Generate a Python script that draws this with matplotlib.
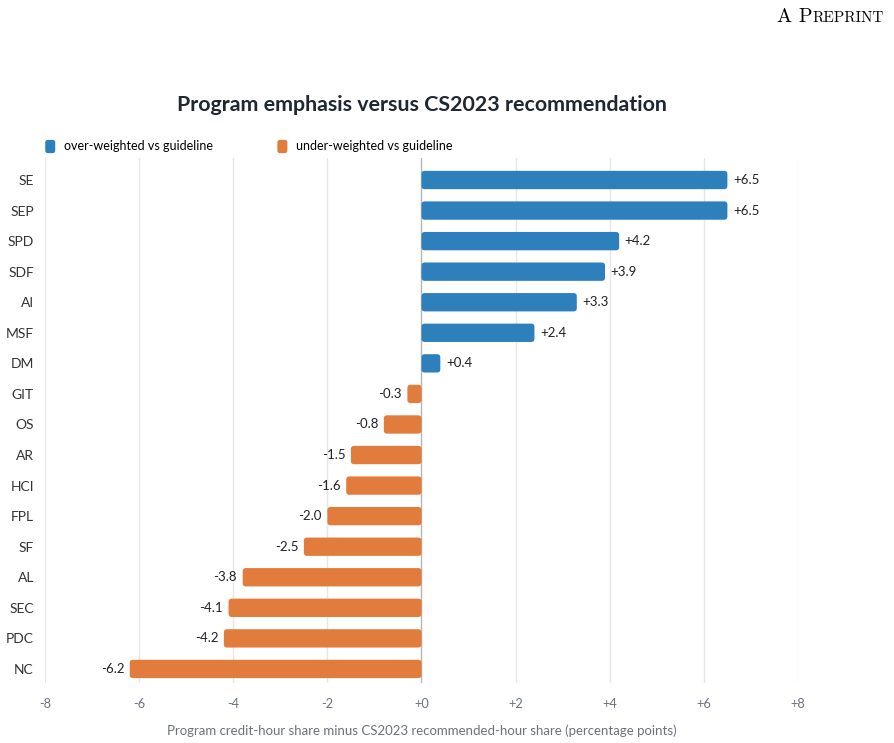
import matplotlib
matplotlib.use("Agg")
import matplotlib.pyplot as plt
from matplotlib.patches import FancyBboxPatch, Patch
from matplotlib.legend_handler import HandlerPatch

plt.rcParams['font.family'] = ['Lato', 'DejaVu Sans']

areas = ["SE", "SEP", "SPD", "SDF", "AI", "MSF", "DM", "GIT", "OS", "AR",
         "HCI", "FPL", "SF", "AL", "SEC", "PDC", "NC"]
deltas = [6.5, 6.5, 4.2, 3.9, 3.3, 2.4, 0.4, -0.3, -0.8, -1.5,
          -1.6, -2.0, -2.5, -3.8, -4.1, -4.2, -6.2]
xticks = [-8, -6, -4, -2, 0, 2, 4, 6, 8]
legend_labels = ["over-weighted vs guideline", "under-weighted vs guideline"]

blau = "#2e80bd"
orange = "#e27c3d"
grau = "#6b7280"

fig = plt.figure(figsize=(8.95, 7.43), dpi=100)
ax = fig.add_axes([45 / 895, 1 - 683 / 743, (798 - 45) / 895, (683 - 158) / 743])

ax.set_xlim(-8, 8)
ax.set_ylim(len(areas) - 1 + 0.46, -0.72)

bar_h = 0.6
for i, (name, val) in enumerate(zip(areas, deltas)):
    col = blau if val >= 0 else orange
    x0 = min(0, val)
    box = FancyBboxPatch((x0, i - bar_h / 2), abs(val), bar_h,
                         boxstyle="round,pad=0,rounding_size=0.07",
                         mutation_aspect=1.5, facecolor=col, edgecolor="none", zorder=3)
    ax.add_patch(box)
    if val >= 0:
        ax.annotate(f"+{val:.1f}", (val, i), xytext=(4, 0), textcoords="offset points",
                    ha="left", va="center", fontsize=9.5, color="#222222")
    else:
        ax.annotate(f"{val:.1f}", (val, i), xytext=(-4, 0), textcoords="offset points",
                    ha="right", va="center", fontsize=9.5, color="#222222")

ax.set_yticks(range(len(areas)))
ax.set_yticklabels(areas, fontsize=10, color="#333333")
ax.set_xticks(xticks)
ax.set_xticklabels([f"+{t}" if t >= 0 else f"{t}" for t in xticks], fontsize=9.2, color=grau)
ax.tick_params(axis="both", length=0)
ax.tick_params(axis="y", pad=8)
ax.tick_params(axis="x", pad=11)
for s in ax.spines.values():
    s.set_visible(False)
for t in xticks:
    ax.axvline(t, color="#b5b5b5" if t == 0 else "#e6e6e6", lw=1, zorder=1)

ax.set_xlabel("Program credit-hour share minus CS2023 recommended-hour share (percentage points)",
              fontsize=9.5, color=grau, labelpad=10)

ax.set_title("Program emphasis versus CS2023 recommendation", fontsize=15.4,
             fontweight="bold", color="#1f2733", pad=34)


def runder_patch(legend, orig_handle, xdescent, ydescent, width, height, fontsize):
    return FancyBboxPatch((-xdescent, -ydescent - 1.5), width, height + 1.5,
                          boxstyle="round,pad=0,rounding_size=1.8")


handles = [Patch(facecolor=blau, edgecolor="none"), Patch(facecolor=orange, edgecolor="none")]
ax.legend(handles, legend_labels, loc="lower left", bbox_to_anchor=(-0.008, 1.0), ncol=2,
          frameon=False, fontsize=9, handlelength=0.8, handleheight=1.0,
          handletextpad=0.7, columnspacing=5.15, borderaxespad=0.1,
          handler_map={Patch: HandlerPatch(patch_func=runder_patch)})

# Kopfzeile "A PREPRINT" in Kapitaelchen
fig.canvas.draw()
r = fig.canvas.get_renderer()
t2 = fig.text(884 / 895, 1 - 22 / 743, "REPRINT", family="cmr10", fontsize=11,
              ha="right", va="baseline", color="black")
bb = t2.get_window_extent(r)
fig.text(bb.x0 / fig.bbox.width, 1 - 22 / 743, "A P", family="cmr10", fontsize=14.5,
         ha="right", va="baseline", color="black")

plt.savefig("out.png", dpi=100)
